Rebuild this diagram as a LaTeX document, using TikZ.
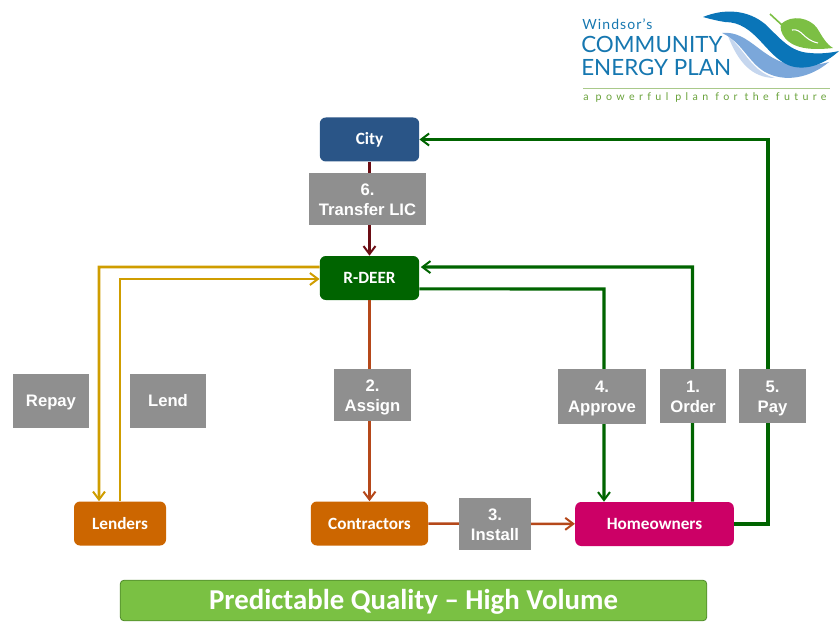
\documentclass[tikz,border=0pt]{standalone}
\usepackage{fontspec}
\setmainfont{Liberation Sans}
\newfontfamily\boxfont{Carlito}[Scale=1]
\newfontfamily\logofont{Lato}
\newfontfamily\namefont{Lato}[LetterSpace=8]
\newfontfamily\sloganfont{Lato}[LetterSpace=41]
\definecolor{CityBlue}{HTML}{2A5587}
\definecolor{DeerGreen}{HTML}{006400}
\definecolor{LenderOrange}{HTML}{CC6600}
\definecolor{HomeMagenta}{HTML}{CC0066}
\definecolor{LabelGray}{HTML}{8F8F8F}
\definecolor{LendGold}{HTML}{CF9D00}
\definecolor{TransferRed}{HTML}{6B0D14}
\definecolor{AssignRust}{HTML}{B5481A}
\definecolor{BarGreen}{HTML}{7AC143}
\definecolor{BarEdge}{HTML}{4F8A2B}
\definecolor{LogoDark}{HTML}{0A75B8}
\definecolor{LogoMid}{HTML}{7BA7DA}
\definecolor{LogoLight}{HTML}{C5D6EE}
\definecolor{LogoText}{HTML}{1677B0}
\definecolor{LogoLeaf}{HTML}{7CBF44}
\definecolor{LogoRule}{HTML}{A9C98A}
\tikzset{
  party/.style={rounded corners=4.5pt,minimum height=33pt,text=white,font=\boxfont\bfseries\fontsize{12.9}{14}\selectfont,inner sep=0pt},
  steplabel/.style={fill=LabelGray,text=white,align=center,inner sep=0pt,text height=24.5pt,text depth=0pt,font=\bfseries\fontsize{12.5}{15}\selectfont},
  sololabel/.style={steplabel,text height=8.9pt,text depth=0pt},
  link/.style={-{Straight Barb[length=6pt,width=9pt,line width=1.5pt]},line width=#1},
  link/.default=1.7pt
}
\usetikzlibrary{arrows.meta}
\begin{document}
\begin{tikzpicture}[x=0.75pt,y=-0.75pt]
  \useasboundingbox (0,0) rectangle (839,631);
  % logo
  \fill[LogoLight] (728,36) .. controls (745,50) and (752,72) .. (775,78) .. controls (752,78) and (738,62) .. (728,36) -- cycle;
  \fill[LogoMid] (722,33) .. controls (750,30) and (762,62) .. (795,65) .. controls (808,66) and (818,65) .. (829,62) .. controls (810,78) and (785,83) .. (765,72) .. controls (748,62) and (742,42) .. (722,33) -- cycle;
  \fill[LogoDark] (703,17) .. controls (725,8) and (748,10) .. (765,24) .. controls (780,38) and (790,52) .. (810,53) .. controls (820,54) and (830,53) .. (839,51) .. controls (825,64) and (805,72) .. (788,65) .. controls (765,55) and (755,22) .. (725,22) .. controls (718,21) and (710,19) .. (703,17) -- cycle;
  \draw[LogoLeaf,line width=1.2pt] (770,14) -- (783,26);
  \fill[LogoLeaf] (781,24) .. controls (792,14) and (810,18) .. (817,28) .. controls (822,36) and (826,44) .. (833,48) .. controls (815,50) and (795,50) .. (785,38) .. controls (781,33) and (780,28) .. (781,24) -- cycle;
  \draw[white,line width=0.8pt] (792,30) .. controls (802,28) and (803,40) .. (818,43);
  \node[anchor=west,text=LogoText,inner sep=0pt,font=\namefont\fontsize{10.5}{11}\selectfont] (logoname) at (582,24) {Windsor’s};
  \node[anchor=west,text=LogoText,inner sep=0pt,font=\logofont\fontsize{16.8}{18}\selectfont] (logotop) at (581,44) {COMMUNITY};
  \node[anchor=west,text=LogoText,inner sep=0pt,font=\logofont\fontsize{16.8}{18}\selectfont] (logobottom) at (581,67) {ENERGY PLAN};
  \draw[LogoRule,line width=0.6pt] (583,88) -- (830,88);
  \node[anchor=west,text=LogoLeaf!85!black,inner sep=0pt,font=\sloganfont\fontsize{8}{9}\selectfont] (logoslogan) at (583,97.5) {a powerful plan for the future};

  % parties
  \node[party,fill=CityBlue,minimum width=74.5pt] (city) at (369.5,139.5) {City};
  \node[party,fill=DeerGreen,minimum width=74.5pt] (rdeer) at (369.5,278) {R-DEER};
  \node[party,fill=LenderOrange,minimum width=69pt] (lenders) at (120,523.5) {Lenders};
  \node[party,fill=LenderOrange,minimum width=88pt] (contractors) at (369.5,523.5) {Contractors};
  \node[party,fill=HomeMagenta,minimum width=119pt] (homeowners) at (654.5,524) {Homeowners};

  % connectors
  \coordinate (paycorner) at (768,139.5);
  \coordinate (ordercorner) at (692.5,267);
  \coordinate (approvecorner) at (604,289);
  \coordinate (repaycorner) at (99,267);
  \coordinate (lendcorner) at (120,279);
  \draw[link,TransferRed,line width=2pt] (city) -- (rdeer);
  \draw[link,AssignRust,line width=1.9pt] (rdeer) -- (contractors);
  \draw[link,AssignRust,line width=1.9pt] (contractors) -- (homeowners);
  \draw[link,DeerGreen,line width=2.7pt] (homeowners.east) -| (paycorner) -- (city.east);
  \draw[link,DeerGreen,line width=2.5pt] ([xshift=28.5pt]homeowners.north) -- (ordercorner) -- ([yshift=8.2pt,xshift=1pt]rdeer.east);
  \draw[link,DeerGreen,line width=2.3pt] ([yshift=-8.2pt]rdeer.east) -- (approvecorner) -- (approvecorner |- homeowners.north);
  \draw[link,LendGold,line width=2pt] ([yshift=8.2pt]rdeer.west) -- (repaycorner) -- (repaycorner |- lenders.north);
  \draw[link,LendGold,line width=2pt] (lenders.north) -- (lendcorner) -- (lendcorner -| rdeer.west);

  % step labels
  \node[steplabel,minimum width=87.5pt,minimum height=39pt] (transfer) at (367.5,199) {6.\\Transfer LIC};
  \node[steplabel,minimum width=58pt,minimum height=39pt] (assign) at (372.5,395) {2.\\Assign};
  \node[steplabel,minimum width=66pt,minimum height=41pt] (approve) at (602,396.5) {4.\\Approve};
  \node[steplabel,minimum width=49.5pt,minimum height=40.5pt] (order) at (693,396) {1.\\Order};
  \node[steplabel,minimum width=50pt,minimum height=40.5pt] (pay) at (772.5,396) {5.\\Pay};
  \node[steplabel,minimum width=54pt,minimum height=39pt] (install) at (495,524) {3.\\Install};
  \node[sololabel,minimum width=57pt,minimum height=40.5pt] (repay) at (51,401) {Repay};
  \node[sololabel,minimum width=57pt,minimum height=40.5pt] (lend) at (168,401) {Lend};

  % banner
  \node[fill=BarGreen,draw=BarEdge,line width=0.6pt,rounded corners=3pt,minimum width=440pt,minimum height=30.5pt,inner sep=0pt,text=white,text height=13.5pt,text depth=0pt,font=\boxfont\bfseries\fontsize{21.6}{24}\selectfont] (banner) at (413.5,600.5) {Predictable Quality – High Volume};
\end{tikzpicture}
\end{document}
